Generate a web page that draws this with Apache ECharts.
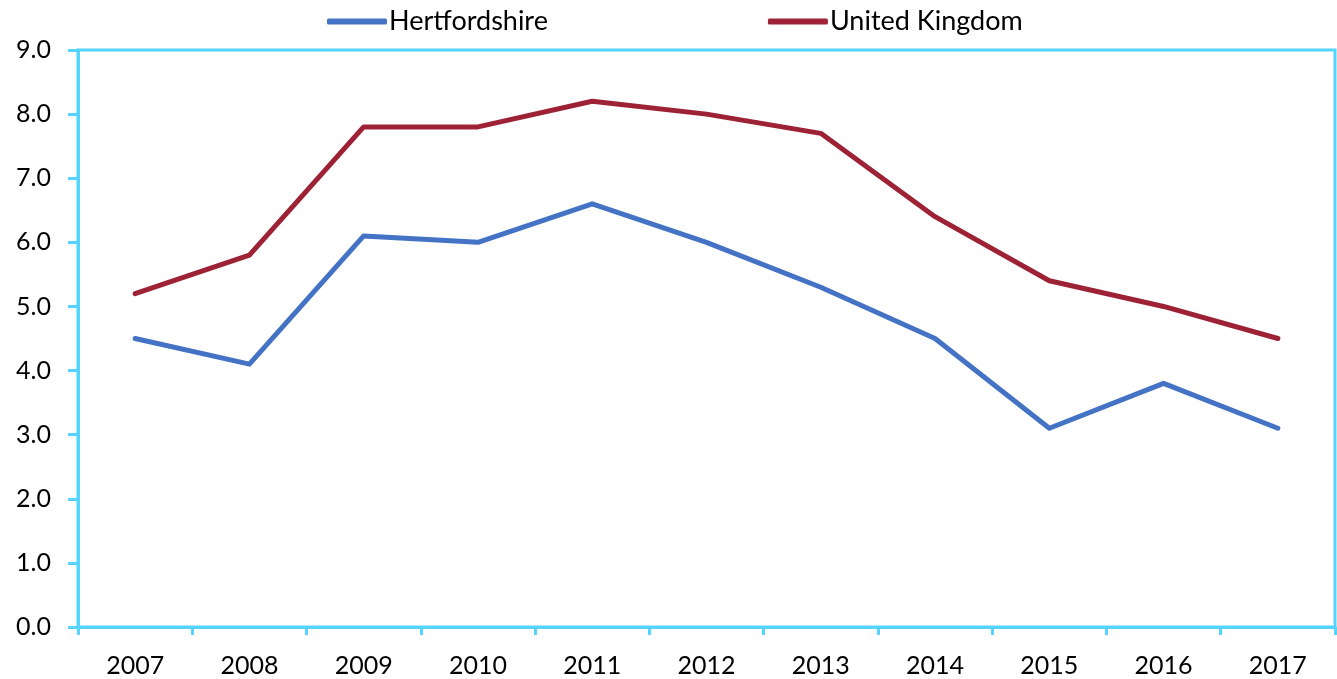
<!DOCTYPE html>
<html>
<head>
<meta charset="utf-8">
<script src="https://cdn.jsdelivr.net/npm/echarts@6/dist/echarts.min.js"></script>
<style>
  html, body { margin: 0; padding: 0; background: #fff; }
  #chart { width: 1337px; height: 679px; }
</style>
</head>
<body>
<div id="chart"></div>
<script>
// Annual rates, 2007–2017
const years = ['2007', '2008', '2009', '2010', '2011', '2012', '2013', '2014', '2015', '2016', '2017'];
const hertfordshire = [4.5, 4.1, 6.1, 6.0, 6.6, 6.0, 5.3, 4.5, 3.1, 3.8, 3.1];
const unitedKingdom = [5.2, 5.8, 7.8, 7.8, 8.2, 8.0, 7.7, 6.4, 5.4, 5.0, 4.5];

const frameColor = '#55D4FF';
const font = 'Lato, "Open Sans", sans-serif';

const chart = echarts.init(document.getElementById('chart'));
chart.setOption({
  animation: false,
  textStyle: { fontFamily: font },
  legend: {
    top: 3,
    left: 322,
    itemGap: 220,
    itemWidth: 60,
    itemHeight: 6,
    icon: 'roundRect',
    textStyle: { fontSize: 27, color: '#000', fontFamily: font, padding: [0, 0, 0, -3] },
    data: ['Hertfordshire', 'United Kingdom']
  },
  grid: {
    left: 78, right: 2, top: 50, bottom: 52,
    show: true,
    borderColor: frameColor,
    borderWidth: 3,
    containLabel: false
  },
  xAxis: {
    type: 'category',
    data: years,
    boundaryGap: true,
    axisLine: { show: true, lineStyle: { color: frameColor, width: 3 } },
    axisTick: { show: true, length: 8, lineStyle: { color: frameColor, width: 3 } },
    axisLabel: { color: '#000', fontSize: 25, margin: 26, fontFamily: font },
    splitLine: { show: false }
  },
  yAxis: {
    type: 'value',
    min: 0, max: 9, interval: 1,
    axisLine: { show: true, lineStyle: { color: frameColor, width: 3 } },
    axisTick: { show: true, length: 10, lineStyle: { color: frameColor, width: 3 } },
    axisLabel: {
      color: '#000', fontSize: 25, margin: 27, fontFamily: font,
      formatter: v => v.toFixed(1)
    },
    splitLine: { show: false }
  },
  series: [
    {
      name: 'Hertfordshire',
      type: 'line',
      data: hertfordshire,
      symbol: 'none',
      color: '#4472C4',
      lineStyle: { width: 5, color: '#4472C4', cap: 'round', join: 'round' }
    },
    {
      name: 'United Kingdom',
      type: 'line',
      data: unitedKingdom,
      symbol: 'none',
      color: '#9E2235',
      lineStyle: { width: 5, color: '#9E2235', cap: 'round', join: 'round' }
    }
  ]
});
</script>
</body>
</html>
